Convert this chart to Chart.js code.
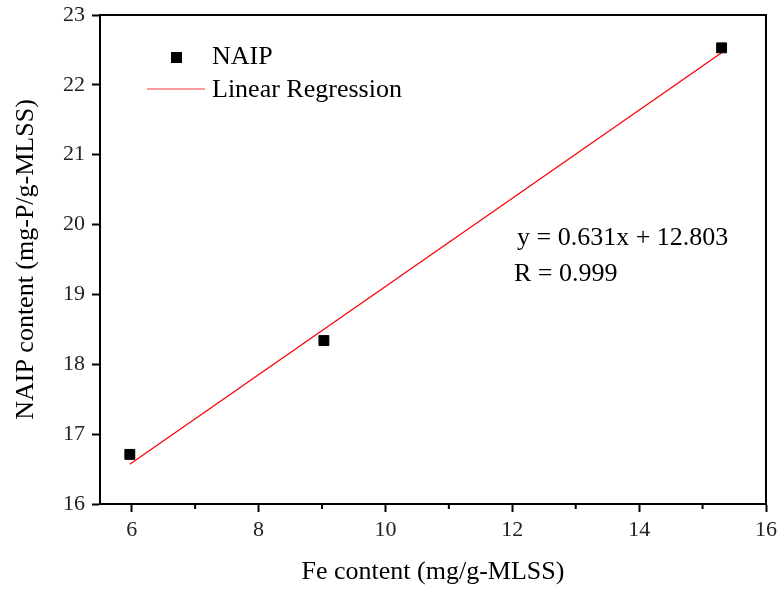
<!DOCTYPE html>
<html>
<head>
<meta charset="utf-8">
<script src="https://cdn.jsdelivr.net/npm/chart.js@4.4.0/dist/chart.umd.min.js"></script>
<style>
  html, body { margin: 0; padding: 0; background: #fff; }
  #wrap { width: 782px; height: 592px; }
</style>
</head>
<body>
<div id="wrap"><canvas id="chart1" width="782" height="592"></canvas></div>
<script>
var feContent = [5.97, 9.03, 15.30];
var naipContent = [16.71, 18.34, 22.53];
// fitted line end points
var fitX = [5.97, 15.30];
var fitY = [16.57, 22.46];
var xTicks = [6, 8, 10, 12, 14, 16];
var yTicks = [16, 17, 18, 19, 20, 21, 22, 23];
var xMinor = [7, 9, 11, 13, 15];
var fitText = ["y = 0.631x + 12.803", "R = 0.999"];

var serif = "'Liberation Serif', 'DejaVu Serif', serif";

var framePlugin = {
  id: "frame",
  afterDraw: function (chart) {
    var ctx = chart.ctx;
    var a = chart.chartArea;
    var xs = chart.scales.x;
    ctx.save();
    ctx.strokeStyle = "#000";
    ctx.lineWidth = 2;
    ctx.beginPath();
    ctx.moveTo(a.left, a.top);
    ctx.lineTo(a.right, a.top);
    ctx.lineTo(a.right, a.bottom);
    ctx.stroke();
    // minor ticks on x axis
    xMinor.forEach(function (v) {
      var px = xs.getPixelForValue(v);
      ctx.beginPath();
      ctx.moveTo(px, a.bottom);
      ctx.lineTo(px, a.bottom + 5);
      ctx.stroke();
    });

    // legend
    ctx.fillStyle = "#000";
    ctx.fillRect(171, 52, 11, 11);
    ctx.strokeStyle = "#f33";
    ctx.lineWidth = 1.2;
    ctx.beginPath();
    ctx.moveTo(147, 89);
    ctx.lineTo(205, 89);
    ctx.stroke();
    ctx.font = "26px " + serif;
    ctx.textBaseline = "middle";
    ctx.fillText("NAIP", 212, 57);
    ctx.fillText("Linear Regression", 212, 90);

    // regression text
    ctx.font = "26px " + serif;
    ctx.fillText(fitText[0], 517, 238);
    ctx.fillText(fitText[1], 514, 274);
    ctx.restore();
  }
};

var ctx1 = document.getElementById("chart1").getContext("2d");
var chart1 = new Chart(ctx1, {
  type: "scatter",
  data: {
    datasets: [
      {
        label: "NAIP",
        data: feContent.map(function (x, i) { return { x: x, y: naipContent[i] }; }),
        pointStyle: "rect",
        pointRadius: 7,
        backgroundColor: "#000",
        borderColor: "#000",
        borderWidth: 1,
        order: 1
      },
      {
        label: "Linear Regression",
        type: "line",
        data: fitX.map(function (x, i) { return { x: x, y: fitY[i] }; }),
        borderColor: "#ff0000",
        borderWidth: 1.3,
        pointRadius: 0,
        fill: false,
        order: 2
      }
    ]
  },
  options: {
    responsive: false,
    animation: false,
    layout: { padding: { left: 0, top: 15, right: 16, bottom: 0 } },
    plugins: {
      legend: { display: false },
      tooltip: { enabled: false }
    },
    scales: {
      x: {
        type: "linear",
        min: 5.5,
        max: 16,
        afterFit: function (scale) { scale.height = 88; },
        afterBuildTicks: function (scale) {
          scale.ticks = xTicks.map(function (v) { return { value: v }; });
        },
        border: { display: true, color: "#000", width: 2 },
        grid: { drawOnChartArea: false, drawTicks: true, tickLength: 8, tickColor: "#000", tickWidth: 2 },
        ticks: { color: "#222", font: { family: serif, size: 22 }, padding: 5 },
        title: {
          display: true,
          text: "Fe content (mg/g-MLSS)",
          color: "#000",
          font: { family: serif, size: 26 },
          padding: { top: 10 }
        }
      },
      y: {
        type: "linear",
        min: 16,
        max: 23,
        afterFit: function (scale) { scale.width = 100; },
        afterBuildTicks: function (scale) {
          scale.ticks = yTicks.map(function (v) { return { value: v }; });
        },
        border: { display: true, color: "#000", width: 2 },
        grid: { drawOnChartArea: false, drawTicks: true, tickLength: 8, tickColor: "#000", tickWidth: 2 },
        ticks: { color: "#222", font: { family: serif, size: 22, lineHeight: 0.6 }, padding: 7 },
        title: {
          display: true,
          text: "NAIP content (mg-P/g-MLSS)",
          color: "#000",
          font: { family: serif, size: 26 },
          padding: { top: 11, bottom: 0 }
        }
      }
    }
  },
  plugins: [framePlugin]
});
</script>
</body>
</html>
